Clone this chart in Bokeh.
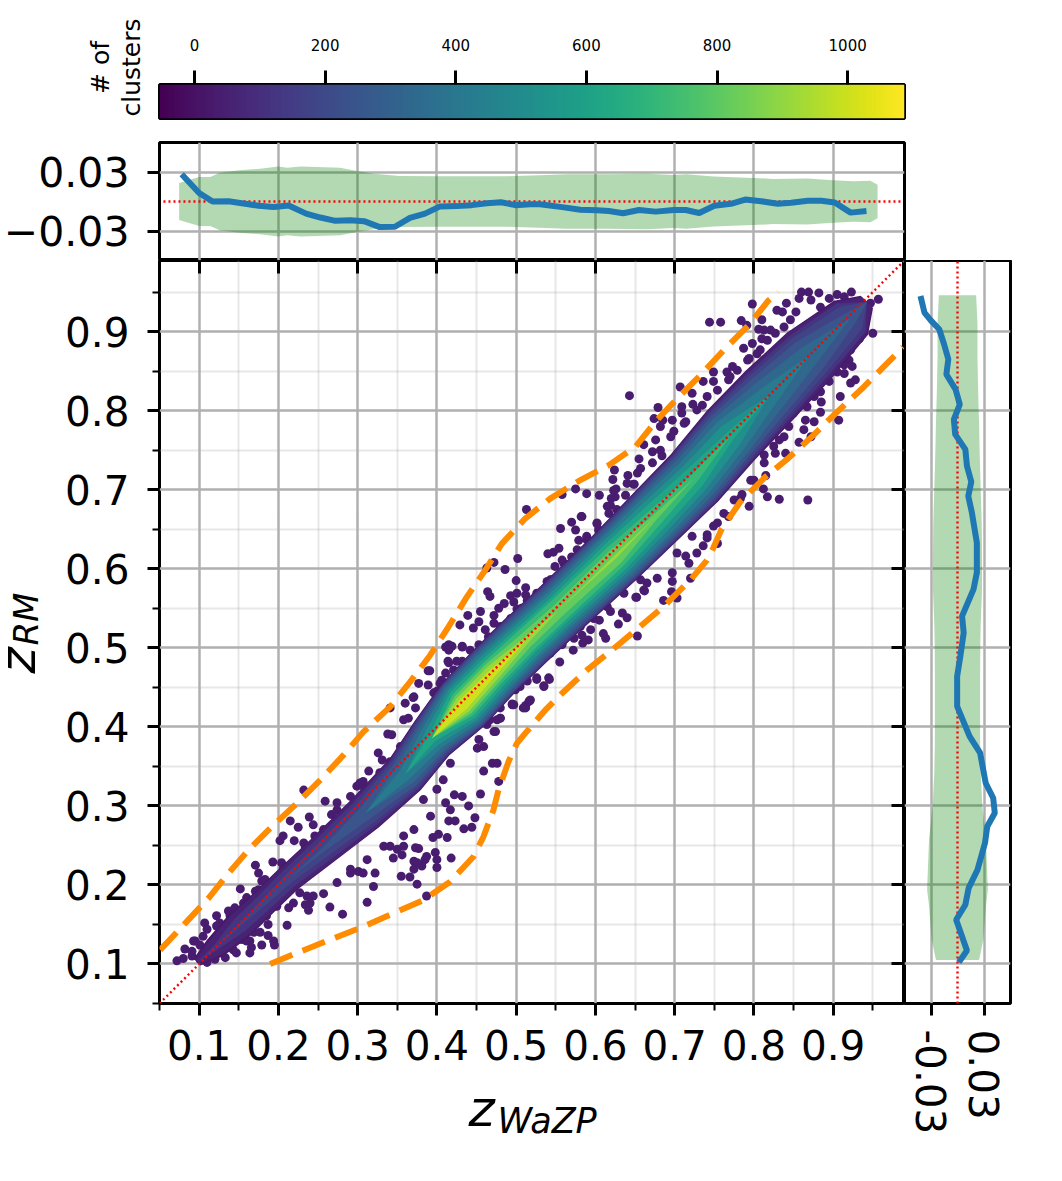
import math
import numpy as np
from bokeh.embed import file_html
from bokeh.layouts import column, row
from bokeh.models import FixedTicker, Label, LinearAxis, LinearColorMapper, Range1d
from bokeh.palettes import Viridis256
from bokeh.plotting import figure
from bokeh.resources import INLINE

# ---- data ----
z_ticks = [0.1, 0.2, 0.3, 0.4, 0.5, 0.6, 0.7, 0.8, 0.9]
z_minor = [0.05, 0.15, 0.25, 0.35, 0.45, 0.55, 0.65, 0.75, 0.85, 0.95]
cbar_ticks = [0, 200, 400, 600, 800, 1000]

# upper and lower orange envelopes
upper_x = [.0508, .0823, .1117, .137, .1622, .1938, .2233, .2527, .2821, .3073, .341, .3662, .3915, .4146,
           .4378, .4609, .482, .5114, .5429, .5786, .6165, .6502, .6754, .7048, .7343, .7637, .7931, .8184, .831]
upper_y = [.1177, .1514, .183, .2147, .2441, .2757, .3032, .3326, .3642, .3937, .4253, .4569, .4906, .5264,
           .5644, .5981, .6318, .6635, .6887, .7108, .7308, .754, .7856, .8172, .8467, .8784, .9078, .9394, .95]
lower_x = [.1896, .2274, .2695, .3073, .3452, .383, .4167, .4461, .4587, .4713, .4777, .4903, .5009, .5114,
           .5366, .5576, .5892, .6208, .6539, .6855, .7195, .7406, .7486, .7595, .7827, .8142, .8432, .8748,
           .9047, .9362, .9655, .9883]
lower_y = [.1, .1156, .1325, .1472, .1641, .1809, .204, .2357, .2609, .2947, .32, .3558, .379, .3917,
           .4211, .4422, .4717, .497, .5248, .5517, .5855, .6107, .6259, .6508, .6845, .716, .7397, .7688,
           .7982, .8277, .8573, .8804]

# density ridge along s = (x + y) / 2, and half widths of the density contours (in y - x, times 1000)
s_nodes = [.10, .12, .15, .18, .21, .25, .30, .35, .39, .43, .47, .51, .55, .62, .67, .72, .77, .82, .87, .92, .94]
ridge_d = [5, 0, -2, -4, -5, -12, -19, -20, -8, -5, -2, -3, -6, -10, -10, -10, -2, 0, 0, -5, -5]
level_values = [25, 60, 120, 180, 250, 330, 420, 520, 620, 720, 820, 920, 1010]
hw_25 = [8.7, 20.6, 27, 25, 25, 29, 35, 39.5, 43.6, 53.8, 53.5, 53.7, 53.6, 55.7, 57.6, 59.6, 61.4, 61, 57, 43, 15.5]
hw_60 = [4.7, 16.3, 23.5, 22.4, 23, 27.3, 33.7, 38.8, 43, 53, 52.8, 53, 53, 55, 57, 58.7, 60, 59, 55, 40, 12]
hw_120 = [0, 4.7, 14.5, 15.4, 17, 22, 28.8, 36, 41.4, 52.4, 52, 51.8, 51.5, 53.7, 55.6, 56.7, 57.6, 55, 49.5, 36, 0]
hw_180 = [0, 0, 2.2, 5.6, 8.6, 14, 22.3, 32.4, 39, 51, 50.6, 50, 49.5, 52, 53.4, 54, 54, 49.5, 43, 28, 0]
hw_250 = [0, 0, 0, 0, 0, 3.3, 12.8, 27.6, 35, 48.9, 48.4, 47, 46.5, 49.5, 50, 50, 49, 42.5, 34, 12, 0]
hw_330 = [0, 0, 0, 0, 0, 0, 0, 20.8, 30.8, 46, 45, 43, 42, 45.5, 46, 44.5, 43, 32, 19, 0, 0]
hw_420 = [0, 0, 0, 0, 0, 0, 0, 11.6, 24.5, 42, 41, 38, 37, 41, 40.5, 37.5, 34, 18, 0, 0, 0]
hw_520 = [0, 0, 0, 0, 0, 0, 0, 0, 16.7, 37, 35.7, 33, 32, 35, 33, 29, 23, 0, 0, 0, 0]
hw_620 = [0, 0, 0, 0, 0, 0, 0, 0, 7.7, 32, 30, 27, 26, 29, 25, 20, 8, 0, 0, 0, 0]
hw_720 = [0, 0, 0, 0, 0, 0, 0, 0, 0, 26, 24.5, 22, 21, 22, 15.5, 8, 0, 0, 0, 0, 0]
hw_820 = [0, 0, 0, 0, 0, 0, 0, 0, 0, 21, 19.5, 14, 12, 15, 5, 0, 0, 0, 0, 0, 0]
hw_920 = [0, 0, 0, 0, 0, 0, 0, 0, 0, 16, 14, 6, 0, 2.8, 0, 0, 0, 0, 0, 0, 0]
hw_1010 = [0, 0, 0, 0, 0, 0, 0, 0, 0, 10, 7, 0, 0, 0, 0, 0, 0, 0, 0, 0, 0]
level_widths = [hw_25, hw_60, hw_120, hw_180, hw_250, hw_330, hw_420, hw_520, hw_620, hw_720, hw_820, hw_920, hw_1010]

# single low-density points outside the contours
outlier_x = [.072, .080, .091, .101, .110, .120, .133, .095, .101, .082, .091, .107, .110, .122, .126, .137, .145,
             .164, .166, .179, .194, .195, .177, .187, .187, .211, .154, .164, .143, .152, .160, .171, .175, .166,
             .213, .234, .240, .244, .238, .257, .265, .281, .312, .320, .355, .366, .375, .371, .381, .387, .400,
             .400, .418, .387, .307, .301, .322, .291, .179, .175, .171, .193, .183, .204, .202, .206, .220, .215,
             .225, .239, .244, .259, .274, .232, .267, .246, .251, .232, .234, .299, .303, .307, .314, .326, .331,
             .338, .343, .354, .358, .364, .373, .360, .371, .377, .391, .341, .400, .411, .414, .411, .419, .432,
             .459, .470, .476, .478, .455, .432, .440, .448, .444, .434, .413, .402, .395, .415, .423, .417, .411,
             .422, .373, .377, .358, .341, .350, .356, .345, .398, .375, .371, .385, .497, .512, .516, .518, .495,
             .472, .459, .451, .453, .476, .480, .526, .541, .535,
             .370, .389, .389, .406, .415, .425, .415, .415, .432, .429, .439, .446, .455, .453, .461, .472, .472,
             .478, .486, .500, .502, .472, .463, .464, .467, .493, .501, .512, .485, .497, .501, .512, .514, .528,
             .539, .545, .560, .556, .540, .547, .554, .558, .549, .570, .581, .570, .583, .575, .579, .589, .602,
             .604, .619, .623, .638, .648, .605, .589, .575, .558, .513, .617, .631, .640,
             .495, .512, .517, .509, .526, .535, .542, .514, .505, .499, .555, .572, .584, .591, .594, .583, .573,
             .558, .610, .613, .629, .634, .640, .653, .605, .619, .652, .661, .474, .480, .453, .463,
             .860, .869, .882, .923, .905, .857, .872, .798, .841, .836, .829, .853, .957, .947, .950, .744, .758,
             .784, .791, .810, .813, .821, .806, .810, .787, .798, .794, .804, .773, .766, .770, .749, .736, .749,
             .768, .707, .722, .735, .723, .709, .679, .643, .674, .685, .697, .709, .661, .676, .682, .714, .699,
             .672, .684, .655, .657, .624, .622, .641, .649, .626, .620, .627, .582,
             .907, .928, .922, .914, .924, .909, .885, .884, .876, .865, .838, .863, .872, .857, .838, .840, .825,
             .813, .815, .796, .832, .817, .868, .812, .783, .794, .768, .749, .754, .736, .741, .722, .718, .720,
             .697, .697, .696, .703, .686, .662, .651]
outlier_y = [.104, .107, .110, .106, .102, .106, .108, .129, .124, .119, .116, .152, .144, .161, .152, .167, .171,
             .114, .121, .124, .129, .124, .140, .150, .136, .149, .131, .129, .118, .195, .184, .192, .194, .175,
             .171, .175, .177, .186, .168, .189, .172, .163, .178, .198, .211, .210, .201, .230, .224, .236, .222,
             .232, .234, .186, .215, .217, .215, .220, .205, .215, .225, .229, .207, .228, .256, .262, .256, .281,
             .273, .286, .276, .306, .304, .320, .289, .262, .257, .253, .247, .325, .329, .331, .344, .367, .358,
             .391, .390, .375, .409, .411, .424, .430, .438, .455, .471, .424, .445, .468, .483, .501, .502, .502,
             .344, .354, .354, .331, .315, .312, .300, .285, .273, .271, .260, .264, .260, .281, .281, .295, .304,
             .314, .247, .246, .249, .249, .245, .238, .234, .241, .228, .220, .232, .428, .424, .432, .434, .428,
             .394, .375, .373, .384, .409, .411, .460, .462, .451,
             .437, .471, .453, .459, .481, .483, .504, .497, .501, .529, .541, .525, .546, .533, .523, .541, .531,
             .550, .599, .585, .613, .608, .601, .571, .565, .566, .569, .576, .556, .558, .549, .567, .560, .567,
             .584, .586, .588, .651, .619, .621, .626, .611, .603, .615, .621, .659, .666, .649, .636, .637, .657,
             .649, .680, .699, .693, .707, .693, .695, .701, .694, .675, .670, .661, .668,
             .429, .427, .433, .424, .462, .452, .460, .458, .451, .447, .482, .497, .506, .510, .523, .516, .512,
             .504, .518, .512, .530, .544, .538, .515, .535, .546, .564, .573, .394, .411, .411, .403,
             .950, .950, .949, .950, .947, .942, .940, .935, .936, .925, .927, .925, .941, .936, .898, .912, .912,
             .914, .908, .915, .902, .902, .903, .891, .879, .885, .866, .872, .856, .849, .843, .849, .837, .837,
             .839, .830, .822, .807, .808, .805, .804, .819, .790, .788, .788, .797, .757, .763, .780, .786, .774,
             .748, .743, .739, .727, .725, .713, .718, .707, .701, .689, .675, .666,
             .788, .839, .835, .847, .856, .818, .811, .798, .786, .788, .790, .776, .767, .760, .767, .746, .755,
             .744, .718, .712, .688, .691, .687, .701, .689, .679, .666, .654, .632, .629, .639, .641, .607, .588,
             .595, .584, .571, .563, .560, .572, .564]
# points that lie along the edge of the dense band
fringe_x = [.884, .895, .914, .933, .939, .937, .933, .922, .920, .914, .905, .895, .884, .876, .867, .850, .844, .832,
            .827, .813, .800, .785, .775, .762, .754, .741, .728, .714, .703, .678, .665,
            .846, .838, .827, .817, .808, .792, .779, .754, .741, .728, .712, .695, .682, .672, .653, .640, .625, .615,
            .602, .589, .577, .560, .543, .526,
            .417, .408, .400, .383, .392, .371, .358, .333, .312, .291, .274, .236, .227, .219, .198, .185, .169, .160,
            .147, .341, .328, .307, .291, .274, .257, .236, .223, .206, .185, .173, .156, .139, .122, .105, .093,
            .396, .404, .421, .432, .442, .453, .465, .480, .493, .507, .522, .539, .556, .568, .585, .602, .615, .627,
            .644, .659, .480, .467, .488, .505, .522, .543, .560, .581, .598, .615, .636, .657]
fringe_y = [.931, .942, .944, .931, .921, .904, .891, .877, .864, .858, .849, .837, .824, .818, .805, .797, .780, .763,
            .746, .734, .712, .694, .687, .670, .658, .643, .620, .616, .620, .588, .582,
            .915, .906, .898, .889, .877, .864, .851, .826, .818, .801, .784, .767, .750, .734, .721, .708, .691, .679,
            .658, .641, .624, .607, .586, .569,
            .354, .333, .321, .308, .287, .270, .262, .249, .232, .215, .203, .186, .190, .177, .173, .161, .140, .129,
            .114, .356, .342, .325, .312, .295, .270, .241, .228, .220, .198, .190, .177, .161, .148, .135, .129,
            .443, .455, .472, .483, .497, .504, .514, .527, .537, .550, .556, .571, .586, .596, .613, .632, .651, .666,
            .680, .695, .424, .409, .443, .464, .478, .493, .510, .527, .537, .552, .569, .586]
outlier_count = 40

# top panel: mean offset and scatter against z_WaZP
top_x = [.078, .1, .117, .137, .156, .175, .194, .213, .235, .253, .272, .291, .308, .328, .347, .366, .385, .404,
         .425, .444, .463, .481, .499, .518, .53, .558, .581, .602, .617, .635, .655, .676, .699, .714, .731, .75,
         .771, .789, .809, .83, .847, .868, .885, .902, .922, .942]
top_y = [.0277, .0087, 0, .0003, -.002, -.0043, -.0057, -.004, -.0123, -.0163, -.0197, -.019, -.02, -.026, -.0257,
         -.0167, -.0123, -.005, -.0047, -.0037, -.0017, -.0007, -.0037, -.0027, -.0027, -.0057, -.0083, -.009,
         -.0097, -.012, -.0087, -.0103, -.0087, -.0087, -.0117, -.0043, -.0023, .002, .0003, -.0023, -.0013,
         .0007, .0007, -.001, -.0113, -.0097]
top_band_x = [.0748, .1, .114, .126, .151, .177, .2, .211, .228, .278, .299, .32, .353, .403, .445, .487, .529,
              .564, .614, .665, .698, .715, .749, .799, .824, .867, .9, .925, .947, .956]
top_band_w = [.0187, .025, .025, .0293, .0317, .0333, .0357, .0343, .0357, .0343, .031, .0283, .026, .0257, .0257,
              .0257, .0267, .0277, .0277, .0283, .027, .0277, .0253, .024, .023, .0233, .0217, .0207, .021, .017]
top_ticks = [-0.03, 0.03]
top_labels = ["\u22120.03", "0.03"]

# side panel: the same against z_RM
side_y = [.945, .924, .914, .903, .884, .865, .846, .827, .808, .789, .770, .751, .730, .710, .692, .671, .633, .595,
          .574, .540, .519, .490, .464, .426, .388, .367, .329, .31, .291, .274, .253, .219, .196, .175, .156, .117, .102]
side_x = [-.0419, -.0374, -.03, -.0207, -.0152, -.0104, -.0126, -.0022, .0026, -.0041, -.0026, .0089, .0107, .0156,
          .0122, .0163, .0219, .0219, .0181, .0052, .007, .0033, -.0004, -.0004, .0137, .0256, .0319, .0404, .0422,
          .0337, .0311, .0226, .0126, .0089, -.0015, .0107, .0015]
side_band_y = [.946, .911, .869, .827, .785, .743, .700, .658, .616, .574, .531, .51, .468, .426, .384, .342, .3,
               .258, .215, .194, .173, .131, .105]
side_band_w = [.0211, .0226, .0226, .0233, .0244, .0252, .0263, .0274, .0278, .0278, .0263, .0259, .0256, .0256,
               .0256, .0263, .0281, .0322, .0337, .0344, .0322, .0293, .0244]
side_ticks = [-0.03, 0.03]
side_labels = ["-0.03", "0.03"]

cbar_low, cbar_high = -53.6, 1087

FONT = "DejaVu Sans"
TICK_SIZE = "40.5px"
GRID = "#b0b0b0"
ORANGE = "#ff8c00"
BLUE = "#1f77b4"


def viridis(v):
    i = int((v - cbar_low) / (cbar_high - cbar_low) * 255)
    return Viridis256[max(0, min(255, i))]


def style_axis(ax):
    ax.axis_line_color = None
    ax.major_tick_line_width = 3
    ax.minor_tick_line_width = 2
    ax.major_tick_line_color = "black"
    ax.minor_tick_line_color = "black"
    ax.major_tick_in = 0
    ax.major_tick_out = 12
    ax.minor_tick_in = 0
    ax.minor_tick_out = 7
    ax.major_label_text_font = FONT
    ax.major_label_text_font_size = TICK_SIZE
    ax.major_label_text_color = "black"


def style_fig(p):
    p.outline_line_color = "black"
    p.outline_line_width = 3
    p.outline_line_alpha = 1
    p.border_fill_color = "white"
    p.background_fill_color = "white"


def style_grid(g, ticks):
    g.ticker = FixedTicker(ticks=ticks)
    g.grid_line_color = GRID
    g.grid_line_width = 2.5


def holder(w, h):
    # empty figure that only carries texts, frame = whole canvas
    p = figure(output_backend="svg", toolbar_location=None, width=w, height=h, frame_width=w, frame_height=h,
               x_axis_type=None, y_axis_type=None, x_range=Range1d(0, w), y_range=Range1d(0, h),
               min_border=0, outline_line_color=None)
    p.grid.visible = False
    return p


def text(p, s, x, y, size, angle=0.0, align="left", style="normal", baseline="alphabetic", where="center"):
    p.add_layout(Label(x=x, y=y, x_units="screen", y_units="screen", text=s, text_font=FONT,
                       text_font_size=size, text_font_style=style, text_color="black", angle=angle,
                       text_align=align, text_baseline=baseline), where)


x_range = Range1d(0.05, 0.99)
y_range = Range1d(0.05, 0.99)

# ---- colour bar ----
cbar = figure(output_backend="svg", toolbar_location=None, frame_width=745, frame_height=34,
              width=908, height=140, x_range=Range1d(cbar_low, cbar_high), y_range=Range1d(0, 1),
              x_axis_location="above", min_border_left=159, min_border_top=84, min_border_bottom=22,
              min_border_right=4)
style_fig(cbar)
cbar.grid.visible = False
cbar.yaxis.visible = False
cbar.xaxis.ticker = FixedTicker(ticks=cbar_ticks)
style_axis(cbar.xaxis[0])
cbar.xaxis.major_tick_out = 14
cbar.xaxis.major_label_text_font_size = "15px"
cbar.xaxis.major_label_standoff = 20
cbar.image(image=[np.linspace(cbar_low, cbar_high, 256).reshape(1, 256)], x=cbar_low, y=0,
           dw=cbar_high - cbar_low, dh=1, level="underlay",
           color_mapper=LinearColorMapper(palette=Viridis256, low=cbar_low, high=cbar_high))
text(cbar, "clusters", 1, 51, "25px", angle=math.pi / 2, align="center", baseline="middle", where="left")
text(cbar, "# of", -1, 51, "25px", angle=math.pi / 2, align="center", baseline="middle", where="left")

# ---- top panel ----
top = figure(output_backend="svg", toolbar_location=None, frame_width=745, frame_height=118,
             width=908, height=120, x_range=x_range, y_range=Range1d(-0.06, 0.06),
             min_border_left=159, min_border_top=2, min_border_bottom=0, min_border_right=4)
style_fig(top)
top.xaxis.visible = False
style_grid(top.xgrid[0], z_ticks)
style_grid(top.ygrid[0], top_ticks)
style_axis(top.yaxis[0])
top.yaxis.ticker = FixedTicker(ticks=top_ticks)
top.yaxis.major_label_overrides = dict(zip(top_ticks, top_labels))
top.yaxis.major_label_standoff = 18
top.yaxis.major_label_text_font_size = "41px"
tb_x = np.array(top_band_x)
tb_w = np.array(top_band_w)
top.varea(x=tb_x, y1=-tb_w, y2=tb_w, fill_color="green", fill_alpha=0.3)
top.line(x=[0.055, 0.985], y=[0, 0], line_color="red", line_width=2.4, line_dash="2 3")
top.line(x=top_x, y=top_y, line_color=BLUE, line_width=6)

# ---- main panel ----
main = figure(output_backend="svg", toolbar_location=None, frame_width=745, frame_height=743,
              width=844, height=817, x_range=x_range, y_range=y_range,
              min_border_left=99, min_border_top=0, min_border_bottom=74, min_border_right=0)
style_fig(main)
for ax in (main.xaxis[0], main.yaxis[0]):
    style_axis(ax)
    ax.ticker = FixedTicker(ticks=z_ticks, minor_ticks=z_minor)
main.xaxis.major_label_standoff = 14
main.yaxis.major_label_standoff = 18
top_ax = LinearAxis(ticker=FixedTicker(ticks=z_ticks), major_label_text_font_size="0px", axis_line_color=None,
                    major_tick_in=13, major_tick_out=0, minor_tick_in=0, minor_tick_out=0,
                    major_tick_line_width=3, major_label_standoff=0)
right_ax = LinearAxis(ticker=FixedTicker(ticks=z_ticks), major_label_text_font_size="0px", axis_line_color=None,
                      major_tick_in=13, major_tick_out=0, minor_tick_in=0, minor_tick_out=0,
                      major_tick_line_width=3, major_label_standoff=0)
main.add_layout(top_ax, "above")
main.add_layout(right_ax, "right")
for g, in [(main.xgrid[0],), (main.ygrid[0],)]:
    style_grid(g, z_ticks)
    g.minor_grid_line_color = GRID
    g.minor_grid_line_alpha = 0.3
    g.minor_grid_line_width = 2
main.xgrid[0].ticker = FixedTicker(ticks=z_ticks, minor_ticks=z_minor)
main.ygrid[0].ticker = FixedTicker(ticks=z_ticks, minor_ticks=z_minor)

main.scatter(x=outlier_x + fringe_x, y=outlier_y + fringe_y, size=9, fill_color=viridis(outlier_count), line_color=None)
s_arr = np.array(s_nodes)
ridge = np.array(ridge_d) / 1000.0
for v, hw in zip(level_values, level_widths):
    h = np.array(hw) / 1000.0
    d_up = ridge + h
    d_lo = ridge - h
    xs = np.concatenate([s_arr - d_up / 2, (s_arr - d_lo / 2)[::-1]])
    ys = np.concatenate([s_arr + d_up / 2, (s_arr + d_lo / 2)[::-1]])
    main.patch(x=xs, y=ys, fill_color=viridis(v), line_color=None)
main.line(x=[0.05, 0.99], y=[0.05, 0.99], line_color="red", line_width=2.4, line_dash="2 3")
main.line(x=upper_x, y=upper_y, line_color=ORANGE, line_width=6, line_dash="24 11")
main.line(x=lower_x, y=lower_y, line_color=ORANGE, line_width=6, line_dash="24 11")

# axis names, each in a figure of its own so that nothing clips them
y_name = holder(60, 743)
text(y_name, "z", 17, 330, "50px", angle=math.pi / 2, style="italic")
text(y_name, "RM", 25, 358, "34px", angle=math.pi / 2, style="italic")

# this figure's frame lines up with main's frame, so x counts from there
x_name = holder(745, 96)
text(x_name, "z", 309, 65, "50px", style="italic")
text(x_name, "WaZP", 338, 53, "35px", style="italic")

# ---- side panel ----
side = figure(output_backend="svg", toolbar_location=None, frame_width=106, frame_height=743,
              width=126, height=913, x_range=Range1d(-0.06, 0.06), y_range=y_range,
              min_border_left=0, min_border_top=0, min_border_bottom=170, min_border_right=20)
style_fig(side)
side.yaxis.visible = False
style_grid(side.xgrid[0], side_ticks)
style_grid(side.ygrid[0], z_ticks)
style_axis(side.xaxis[0])
side.xaxis.ticker = FixedTicker(ticks=side_ticks)
side.xaxis.major_label_overrides = dict(zip(side_ticks, side_labels))
side.xaxis.major_label_orientation = -math.pi / 2
side.xaxis.major_label_standoff = 14
sb_y = np.array(side_band_y)
sb_w = np.array(side_band_w)
side.harea(y=sb_y, x1=-sb_w, x2=sb_w, fill_color="green", fill_alpha=0.3)
side.line(x=[0, 0], y=[0.05, 0.99], line_color="red", line_width=2.4, line_dash="2 3")
side.line(x=side_x, y=side_y, line_color=BLUE, line_width=6)

page = column(cbar, top, row(y_name, column(main, x_name, spacing=0), side, spacing=0), spacing=0)
open("out.html", "w").write(file_html(page, INLINE))
